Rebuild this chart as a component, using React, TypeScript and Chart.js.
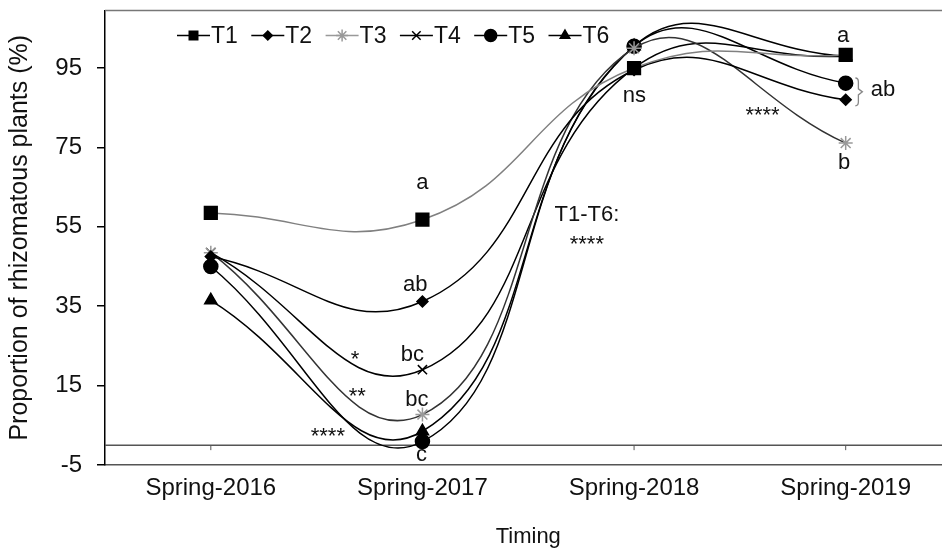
import React, { useEffect, useRef } from 'react';
import { Chart, registerables } from 'chart.js';
import { drawPoint } from 'chart.js/helpers';

Chart.register(...registerables);

const categories = ['Spring-2016', 'Spring-2017', 'Spring-2018', 'Spring-2019'];
const seriesNames = ['T1', 'T2', 'T3', 'T4', 'T5', 'T6'];
const t1 = [58.5, 56.8, 95.0, 98.3];
const t2 = [47.5, 36.2, 94.5, 87.0];
const t3 = [48.5, 7.7, 100.0, 76.1];
const t4 = [48.5, 19.0, 95.0, 98.0];
const t5 = [45.0, 0.9, 100.5, 91.2];
const t6 = [36.5, 3.5, 100.5, 98.0];
const seriesValues = [t1, t2, t3, t4, t5, t6];
const yTicks = [-5, 15, 35, 55, 75, 95];

// annotation texts: x = category index position, y = value
const annoTexts = ['a', 'ab', 'bc', 'bc', 'c', '*', '**', '****', 'T1-T6:', '****', 'ns', '****', 'a', 'ab', 'b'];
const annoX = [1.0, 0.966, 0.952, 0.974, 0.996, 0.682, 0.692, 0.553, 1.777, 1.777, 2.002, 2.607, 2.988, 3.176, 2.993];
const annoY = [66, 40.3, 22.7, 11.4, -2.5, 22.7, 13.3, 3.4, 57.9, 51.6, 88.1, 84.2, 103.2, 89.5, 71.0];
const bracketX = 3.06;
const bracketRange = [92.5, 85.5];

const FONT = "'Liberation Sans', Arial, sans-serif";

const styles = [
  { pointStyle: 'rect', radius: 9, legendRadius: 6, fill: '#000', border: '#000', line: '#808080', legendLine: '#000' },
  { pointStyle: 'rectRot', radius: 5.5, legendRadius: 4.5, fill: '#000', border: '#000', line: '#000', legendLine: '#000' },
  { pointStyle: 'star', radius: 7, legendRadius: 6, fill: '#999', border: '#999', line: '#333', legendLine: '#999' },
  { pointStyle: 'crossRot', radius: 6.5, legendRadius: 6, fill: '#000', border: '#000', line: '#000', legendLine: '#000' },
  { pointStyle: 'circle', radius: 7, legendRadius: 6, fill: '#000', border: '#000', line: '#000', legendLine: '#000' },
  { pointStyle: 'triangle', radius: 7, legendRadius: 5.5, fill: '#000', border: '#000', line: '#000', legendLine: '#000' },
];

const decorPlugin = {
  id: 'decor',
  beforeDatasetsDraw(chart: any) {
    const { ctx, chartArea, scales } = chart;
    const y0 = scales.y.getPixelForValue(0);
    ctx.save();
    ctx.strokeStyle = '#555';
    ctx.lineWidth = 1.5;
    ctx.beginPath();
    ctx.moveTo(chartArea.left, y0);
    ctx.lineTo(chartArea.right, y0);
    ctx.stroke();
    ctx.lineWidth = 1;
    categories.forEach((_, i) => {
      const x = scales.x.getPixelForValue(i);
      ctx.beginPath();
      ctx.moveTo(x, y0);
      ctx.lineTo(x, y0 + 5);
      ctx.stroke();
    });
    // top border
    ctx.strokeStyle = '#777';
    ctx.lineWidth = 1.5;
    ctx.beginPath();
    ctx.moveTo(chartArea.left, chartArea.top);
    ctx.lineTo(chartArea.right, chartArea.top);
    ctx.stroke();
    ctx.restore();
  },
  afterDatasetsDraw(chart: any) {
    const { ctx, chartArea, scales } = chart;
    ctx.save();
    // annotations
    ctx.fillStyle = '#111';
    ctx.textAlign = 'center';
    ctx.textBaseline = 'middle';
    annoTexts.forEach((t, i) => {
      const x = scales.x.getPixelForValue(annoX[i]);
      let y = scales.y.getPixelForValue(annoY[i]);
      const isStar = t.indexOf('*') === 0;
      const size = 22;
      ctx.font = `${size}px ${FONT}`;
      if (isStar) y += size * 0.22;
      ctx.fillText(t, x, y);
    });
    // bracket
    const bx = scales.x.getPixelForValue(bracketX);
    const by1 = scales.y.getPixelForValue(bracketRange[0]);
    const by2 = scales.y.getPixelForValue(bracketRange[1]);
    const bm = (by1 + by2) / 2;
    ctx.strokeStyle = '#888';
    ctx.lineWidth = 1.3;
    ctx.beginPath();
    ctx.moveTo(bx - 3, by1);
    ctx.quadraticCurveTo(bx, by1, bx, by1 + 4);
    ctx.lineTo(bx, bm - 3);
    ctx.lineTo(bx + 4, bm);
    ctx.lineTo(bx, bm + 3);
    ctx.lineTo(bx, by2 - 4);
    ctx.quadraticCurveTo(bx, by2, bx - 3, by2);
    ctx.stroke();

    // legend
    const lx0 = chartArea.left + 72;
    const ly = chartArea.top + 25;
    const step = 74.3;
    const segLen = 33;
    seriesNames.forEach((name, i) => {
      const st = styles[i];
      const sx = lx0 + i * step;
      ctx.strokeStyle = st.legendLine;
      ctx.lineWidth = 1.5;
      ctx.beginPath();
      ctx.moveTo(sx, ly);
      ctx.lineTo(sx + segLen, ly);
      ctx.stroke();
      ctx.fillStyle = st.fill;
      ctx.strokeStyle = st.border;
      ctx.lineWidth = 1.5;
      drawPoint(ctx, { pointStyle: st.pointStyle, radius: st.legendRadius, rotation: 0, borderWidth: 1.5 } as any, sx + segLen / 2, ly);
      ctx.fillStyle = '#111';
      ctx.font = `23px ${FONT}`;
      ctx.textAlign = 'left';
      ctx.textBaseline = 'middle';
      ctx.fillText(name, sx + segLen + 1, ly + 1);
    });
    ctx.restore();
  },
};

export default function App() {
  const ref = useRef<HTMLCanvasElement | null>(null);
  useEffect(() => {
    if (!ref.current) return;
    const chart = new Chart(ref.current, {
      type: 'line',
      data: {
        labels: categories,
        datasets: seriesNames.map((name, i) => ({
          label: name,
          data: seriesValues[i],
          borderColor: styles[i].line,
          borderWidth: 1.5,
          tension: 0.45,
          fill: false,
          pointStyle: styles[i].pointStyle as any,
          pointRadius: styles[i].radius,
          pointBackgroundColor: styles[i].fill,
          pointBorderColor: styles[i].border,
          pointBorderWidth: 1.5,
        })),
      },
      options: {
        animation: false,
        responsive: false,
        devicePixelRatio: 1,
        layout: { padding: { top: 10, right: 5, left: 0, bottom: 0 } },
        plugins: { legend: { display: false }, tooltip: { enabled: false } },
        elements: { line: { capBezierPoints: false } },
        scales: {
          x: {
            type: 'category',
            offset: true,
            grid: { display: false },
            border: { display: true, color: '#555', width: 1.5 },
            ticks: { color: '#111', font: { family: FONT, size: 24 }, padding: 1, maxRotation: 0 },
            title: { display: true, text: 'Timing', color: '#111', font: { family: FONT, size: 22 }, padding: { top: 0, bottom: 2 } },
            afterFit: (s: any) => { s.height = 87; s.paddingLeft = 0; s.paddingRight = 0; s.paddingTop = 0; s.paddingBottom = 0; },
          },
          y: {
            min: -5,
            max: 109.5,
            grid: { display: true, drawOnChartArea: false, drawTicks: true, tickLength: 8, color: '#000', lineWidth: 1.5 },
            border: { display: true, color: '#000', width: 1.5 },
            ticks: { color: '#111', font: { family: FONT, size: 24 }, padding: 15 },
            afterBuildTicks: (s: any) => { s.ticks = yTicks.map((v) => ({ value: v })); },
            title: { display: true, text: 'Proportion of rhizomatous plants (%)', color: '#111', font: { family: FONT, size: 25 }, padding: { top: 5, bottom: 0 } },
            afterFit: (s: any) => { s.width = 105; s.paddingTop = 0; s.paddingBottom = 0; s.paddingLeft = 0; s.paddingRight = 0; },
          },
        },
      },
      plugins: [decorPlugin],
    });
    return () => chart.destroy();
  }, []);
  return (
    <div style={{ position: 'fixed', left: 0, top: 0, width: 942, height: 552, overflow: 'hidden', background: '#fff' }}>
      <canvas ref={ref} width={962} height={552} style={{ width: 962, height: 552, display: 'block' }} />
    </div>
  );
}
